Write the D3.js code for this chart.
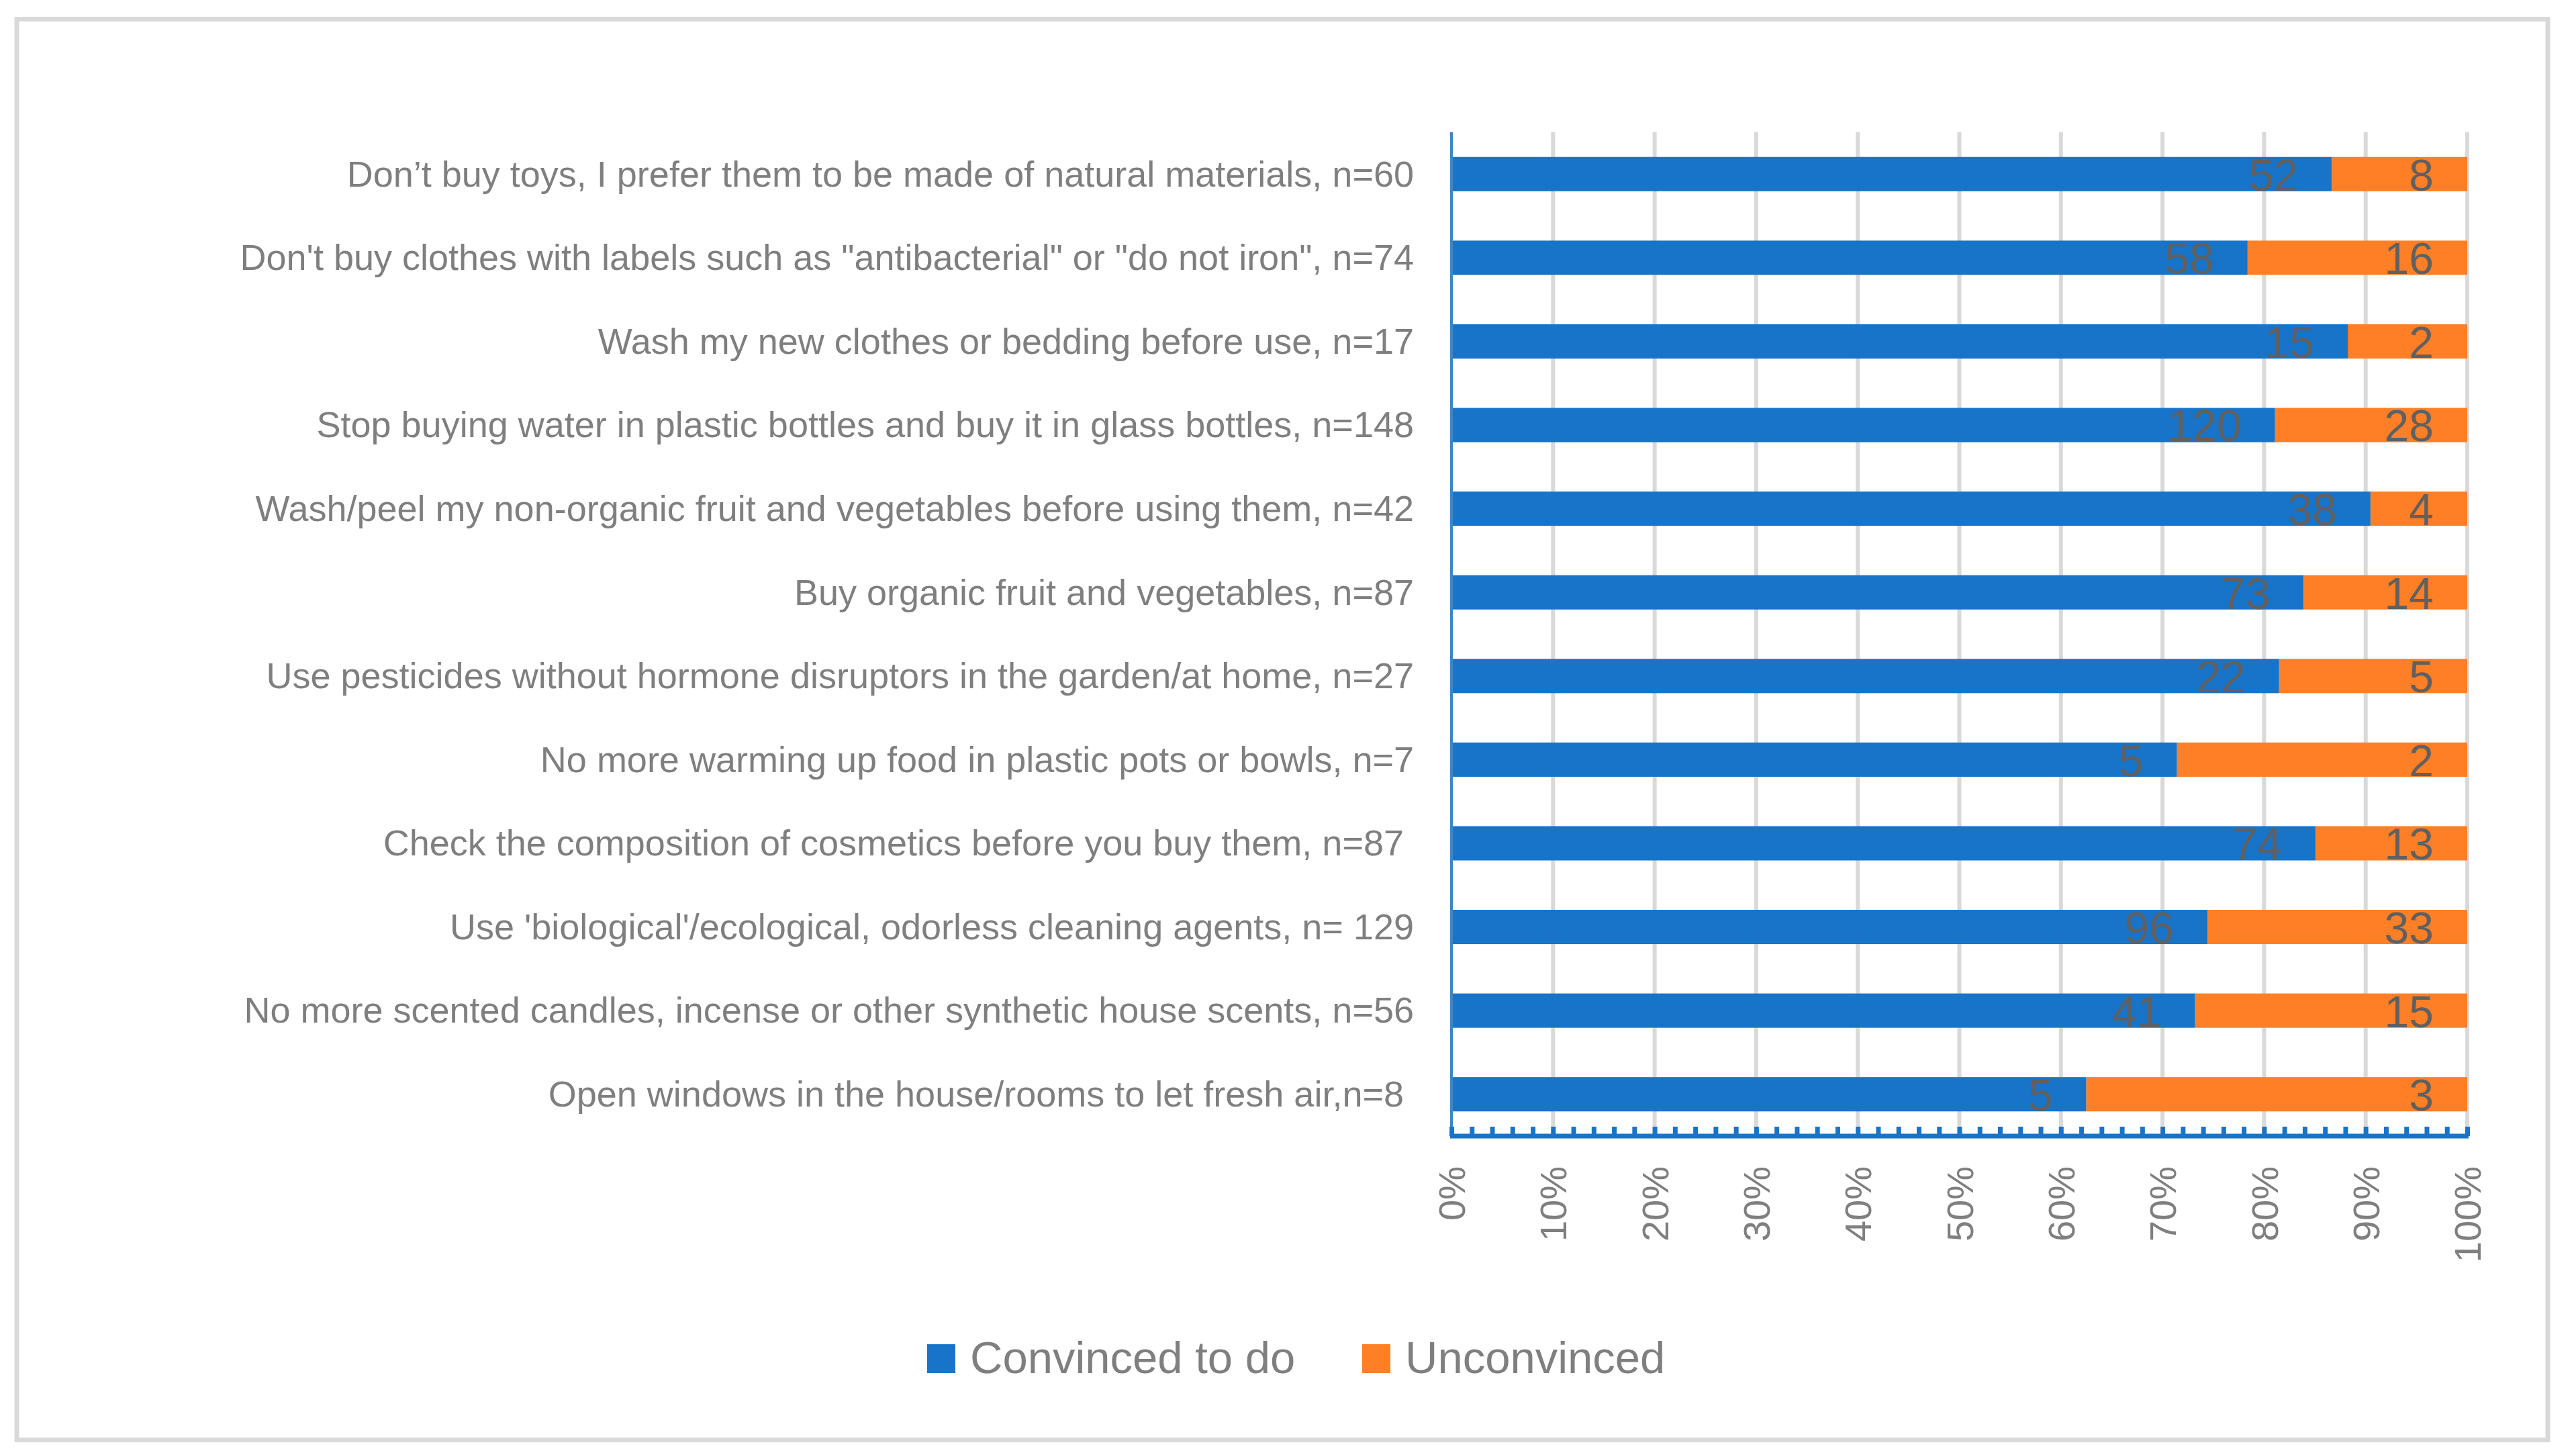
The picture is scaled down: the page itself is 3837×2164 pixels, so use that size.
<!DOCTYPE html>
<html>
<head>
<meta charset="utf-8">
<script src="https://cdn.jsdelivr.net/npm/d3@7/dist/d3.min.js"></script>
<style>
  html, body { margin: 0; padding: 0; background: #ffffff; }
  svg { display: block; }
  text { white-space: pre; }
</style>
</head>
<body>
<svg id="chart" width="3837" height="2164"></svg>
<script>
// ---- Data ----
const categories = [
  "Don\u2019t buy toys, I prefer them to be made of natural materials, n=60",
  "Don't buy clothes with labels such as \"antibacterial\" or \"do not iron\", n=74",
  "Wash my new clothes or bedding before use, n=17",
  "Stop buying water in plastic bottles and buy it in glass bottles, n=148",
  "Wash/peel my non-organic fruit and vegetables before using them, n=42",
  "Buy organic fruit and vegetables, n=87",
  "Use pesticides without hormone disruptors in the garden/at home, n=27",
  "No more warming up food in plastic pots or bowls, n=7",
  "Check the composition of cosmetics before you buy them, n=87 ",
  "Use 'biological'/ecological, odorless cleaning agents, n= 129",
  "No more scented candles, incense or other synthetic house scents, n=56",
  "Open windows in the house/rooms to let fresh air,n=8 "
];
const convinced   = [52, 58, 15, 120, 38, 73, 22, 5, 74, 96, 41, 5];
const unconvinced = [ 8, 16,  2,  28,  4, 14,  5, 2, 13, 33, 15, 3];
const seriesNames = ["Convinced to do", "Unconvinced"];
const seriesColors = ["#1874C8", "#FE7F26"];
const tickValues = [0, 0.1, 0.2, 0.3, 0.4, 0.5, 0.6, 0.7, 0.8, 0.9, 1.0];

// ---- Layout ----
const svg = d3.select("#chart");
const plot = { left: 2162, right: 3675, top: 197, bottom: 1692 };

// outer border
svg.append("rect")
  .attr("x", 25).attr("y", 28.5).attr("width", 3770).attr("height", 2116)
  .attr("fill", "#ffffff").attr("stroke", "#D9D9D9").attr("stroke-width", 7);

const x = d3.scaleLinear().domain([0, 1]).range([plot.left, plot.right]);
const y = d3.scaleBand().domain(categories).range([plot.top, plot.bottom])
  .paddingInner(0.59).paddingOuter(0.295);

// gridlines
svg.append("g").selectAll("line").data(tickValues.slice(1)).join("line")
  .attr("x1", d => x(d)).attr("x2", d => x(d))
  .attr("y1", plot.top).attr("y2", plot.bottom)
  .attr("stroke", "#D9D9D9").attr("stroke-width", 6);

// stacked data
const rows = categories.map((c, i) => {
  const t = convinced[i] + unconvinced[i];
  return { cat: c, vals: [convinced[i], unconvinced[i]], p0: convinced[i] / t, p1: unconvinced[i] / t };
});
const stack = d3.stack().keys(["p0", "p1"]);
const stacked = stack(rows);

const gBars = svg.append("g");
stacked.forEach((layer, li) => {
  gBars.append("g").attr("fill", seriesColors[li])
    .selectAll("rect").data(layer).join("rect")
    .attr("x", d => x(d[0]))
    .attr("y", d => y(d.data.cat))
    .attr("width", d => x(d[1]) - x(d[0]))
    .attr("height", y.bandwidth());
});

// data labels
const gLab = svg.append("g")
  .attr("font-family", "'Liberation Sans', Arial, sans-serif")
  .attr("font-size", 66).attr("fill", "#606060").attr("text-anchor", "end");
stacked.forEach((layer, li) => {
  gLab.append("g").selectAll("text").data(layer).join("text")
    .attr("x", d => x(d[1]) - 50)
    .attr("y", d => y(d.data.cat) + y.bandwidth() / 2)
    .attr("dy", "0.37em")
    .text(d => d.data.vals[li]);
});

// category labels
svg.append("g")
  .attr("font-family", "'Liberation Sans', Arial, sans-serif")
  .attr("font-size", 54).attr("fill", "#7F7F7F").attr("text-anchor", "end")
  .selectAll("text").data(categories).join("text")
  .attr("x", plot.left - 56)
  .attr("y", d => y(d) + y.bandwidth() / 2)
  .attr("dy", "0.34em")
  .text(d => d);

// left axis line
svg.append("line")
  .attr("x1", plot.left).attr("x2", plot.left)
  .attr("y1", plot.top).attr("y2", plot.bottom + 3)
  .attr("stroke", "#3D85C6").attr("stroke-width", 4);

// bottom axis: minor ticks (every 2%)
const minorAxis = d3.axisTop(x).ticks(50).tickSize(14).tickFormat("");
const gMinor = svg.append("g").attr("transform", `translate(0,${plot.bottom})`).call(minorAxis);
gMinor.select(".domain").remove();
gMinor.selectAll(".tick line").attr("stroke", "#1874C8").attr("stroke-width", 7);
svg.append("line")
  .attr("x1", plot.left - 2).attr("x2", plot.right + 2)
  .attr("y1", plot.bottom).attr("y2", plot.bottom)
  .attr("stroke", "#1874C8").attr("stroke-width", 7);

// tick labels (rotated)
const labAxis = d3.axisBottom(x).tickValues(tickValues).tickSize(0).tickFormat(d3.format(".0%"));
const gAx = svg.append("g").attr("transform", `translate(0,${plot.bottom})`).call(labAxis);
gAx.select(".domain").remove();
gAx.selectAll(".tick text")
  .attr("font-family", "'Liberation Sans', Arial, sans-serif")
  .attr("font-size", 56).attr("fill", "#7F7F7F")
  .attr("transform", "rotate(-90)")
  .attr("text-anchor", "end")
  .attr("x", -45).attr("y", 0).attr("dy", "0.35em");

// legend
const legend = svg.append("g")
  .attr("font-family", "'Liberation Sans', Arial, sans-serif")
  .attr("font-size", 67).attr("fill", "#7F7F7F");
const legendX = [1381, 2029];
seriesNames.forEach((n, i) => {
  legend.append("rect").attr("x", legendX[i]).attr("y", 2002).attr("width", 42).attr("height", 43)
    .attr("fill", seriesColors[i]);
  legend.append("text").attr("x", legendX[i] + 64).attr("y", 2045).text(n);
});
</script>
</body>
</html>
